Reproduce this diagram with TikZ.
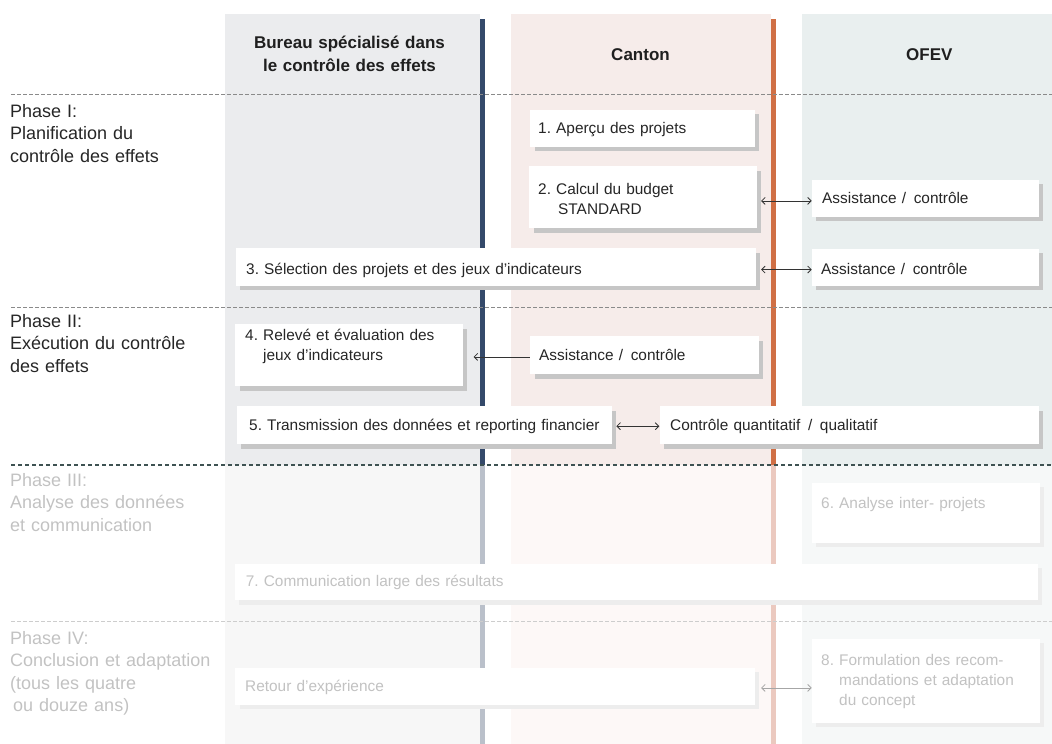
\documentclass[tikz,border=0pt]{standalone}
\usepackage{fontspec}
\setmainfont{Liberation Sans}
\usetikzlibrary{arrows.meta,shadows}
\frenchspacing
\definecolor{bureauBg}{HTML}{EBECEE}
\definecolor{cantonBg}{HTML}{F6ECEA}
\definecolor{ofevBg}{HTML}{E9EFEF}
\definecolor{bureauBgF}{HTML}{F7F7F7}
\definecolor{cantonBgF}{HTML}{FDF8F7}
\definecolor{ofevBgF}{HTML}{F6F8F8}
\definecolor{blueLine}{HTML}{34496A}
\definecolor{blueLineF}{HTML}{BAC0CA}
\definecolor{orangeLine}{HTML}{D06F45}
\definecolor{orangeLineF}{HTML}{EBC9BF}
\definecolor{dashGray}{HTML}{8A8A8A}
\definecolor{dashDark}{HTML}{3E5252}
\definecolor{dashLight}{HTML}{CDCDCD}
\definecolor{shadowC}{HTML}{C6C6C6}
\definecolor{shadowF}{HTML}{EDEDED}
\definecolor{textDark}{HTML}{262626}
\definecolor{textF}{HTML}{C2C2C2}
\definecolor{arrowC}{HTML}{333333}
\definecolor{arrowF}{HTML}{A6A6A6}
\newcommand\mybox[9]{%
  \pgfmathsetmacro\bxh{#6-#3}%
  \pgfmathsetmacro\bxd{#5-#6}%
  \pgfmathsetmacro\bxs{#7-#2}%
  \pgfmathsetmacro\bxw{#4-#2-2*(#7-#2)}%
  \node[#8, inner xsep=\bxs pt, text height=\bxh pt, text depth=\bxd pt, text width=\bxw pt] (#1) at (#2,#3) {#9};}
\begin{document}
\begin{tikzpicture}[x=1pt,y=-1pt,
  boxbase/.style={fill=white, inner ysep=0pt, anchor=north west, align=left,
    font=\fontsize{15.4}{20}\selectfont},
  box/.style={boxbase, text=textDark,
    drop shadow={shadow xshift=4.5pt, shadow yshift=-4.5pt, fill=shadowC, opacity=1}},
  boxf/.style={boxbase, text=textF,
    drop shadow={shadow xshift=4.5pt, shadow yshift=-4.5pt, fill=shadowF, opacity=1}},
  phase/.style={anchor=base west, align=left, text width=220pt, inner sep=0pt,
    font=\fontsize{18}{22.5}\selectfont, text=textDark},
  phasef/.style={phase, text=textF},
  head/.style={anchor=base, align=center, text width=260pt, inner sep=0pt,
    font=\fontsize{17}{23.3}\selectfont\bfseries, text=black!88},
  sepline/.style={draw=dashGray, line width=0.8pt, dash pattern=on 4pt off 2pt},
  sepdark/.style={draw=dashDark, line width=1.3pt, dash pattern=on 4pt off 3pt},
  seplight/.style={draw=dashLight, line width=0.8pt, dash pattern=on 4pt off 2pt},
  tipA/.tip={Straight Barb[length=3.5pt,width=7pt]},
  arr/.style={tipA-tipA, line width=0.8pt, draw=arrowC},
  arrl/.style={tipA-, line width=0.8pt, draw=arrowC},
  arrf/.style={tipA-tipA, line width=0.8pt, draw=arrowF}]
\useasboundingbox (0,0) rectangle (1052,744);
% column backgrounds
\fill[bureauBg] (225,14) rectangle (479.5,465);
\fill[bureauBgF] (225,465) rectangle (479.5,744);
\fill[cantonBg] (511,14) rectangle (771,465);
\fill[cantonBgF] (511,465) rectangle (771,744);
\fill[ofevBg] (802,14) rectangle (1052,465);
\fill[ofevBgF] (802,465) rectangle (1052,744);
% vertical lines
\fill[blueLine] (479.5,19) rectangle (484.5,465);
\fill[blueLineF] (479.5,465) rectangle (484.5,744);
\fill[orangeLine] (771,19) rectangle (775.5,465);
\fill[orangeLineF] (771,465) rectangle (775.5,744);
% phase separators
\draw[sepline] (11,94) -- (1052,94);
\draw[sepline] (11,307) -- (1052,307);
\draw[sepdark] (11,465) -- (1052,465);
\draw[seplight] (11,621.7) -- (1052,621.7);
% headers
\node[head] (hb) at (349.5,48.3) {Bureau spécialisé dans\\le contrôle des effets};
\node[head] (hc) at (640.5,60) {Canton};
\node[head] (ho) at (929.3,60) {OFEV};
% phase labels
\node[phase] (p1) at (10,117.3) {Phase I:\\Planification du\\contrôle des effets};
\node[phase] (p2) at (10,327.3) {Phase II:\\Exécution du contrôle\\des effets};
\node[phasef] (p3) at (10,486) {Phase III:\\Analyse des données\\et communication};
\node[phasef] (p4) at (10,644) {Phase IV:\\Conclusion et adaptation\\(tous les quatre\\\hspace*{3pt}ou douze ans)};
% boxes
\mybox{b1}{530}{109.3}{754.3}{146.7}{133.3}{538}{box}{1. Aperçu des projets}
\mybox{b2}{529}{166}{756.7}{228}{194.3}{538}{box}{2. Calcul du budget\\\hspace*{20pt}STANDARD}
\mybox{a1}{811.7}{179.3}{1038.3}{216.7}{203.3}{822}{box}{Assistance /\, contrôle}
\mybox{b3}{235.7}{248}{755.7}{285.7}{274}{246}{box}{3. Sélection des projets et des jeux d’indicateurs}
\mybox{a2}{811.7}{248.3}{1038.3}{285.7}{274}{821}{box}{Assistance /\, contrôle}
\mybox{b4}{235}{324}{462.7}{386}{340.7}{245}{box}{4. Relevé et évaluation des\\\hspace*{18pt}jeux d’indicateurs}
\mybox{a3}{530}{336}{758.7}{374}{360}{539}{box}{Assistance /\, contrôle}
\mybox{b5}{236.7}{406}{611.3}{444}{430}{249}{box}{\mbox{5. Transmission des données et reporting financier}}
\mybox{c5}{659.3}{406}{1038.3}{444}{430}{670}{box}{Contrôle quantitatif \,/\, qualitatif}
\mybox{b6}{811.7}{482.3}{1039.3}{542.7}{508.3}{821}{boxf}{6. Analyse inter- projets}
\mybox{b7}{234.3}{563.3}{1037.7}{600}{586.7}{245.7}{boxf}{7. Communication large des résultats}
\mybox{r8}{235}{667.3}{754.3}{704.3}{691}{245}{boxf}{Retour d’expérience}
\mybox{b8}{811.7}{638.3}{1039.3}{722.7}{665}{821}{boxf}{8. Formulation des recom-\\\hspace*{18pt}mandations et adaptation\\\hspace*{18pt}du concept}
% connectors
\draw[arr] ([xshift=4pt,yshift=-3.7pt]b2.east) coordinate (s2) -- (s2 -| a1.west);
\draw[arr] ([xshift=5pt,yshift=-2.5pt]b3.east) coordinate (s3) -- (s3 -| a2.west);
\draw[arrl] ([xshift=10.5pt,yshift=-1.7pt]b4.east |- a3.west) coordinate (s4) -- ([yshift=-1.7pt]a3.west);
\draw[arr] ([xshift=4.7pt,yshift=-1pt]b5.east) coordinate (s5) -- (s5 -| c5.west);
\draw[arrf] ([xshift=6.4pt,yshift=-1.9pt]r8.east) coordinate (s8) -- (s8 -| b8.west);
\end{tikzpicture}
\end{document}
